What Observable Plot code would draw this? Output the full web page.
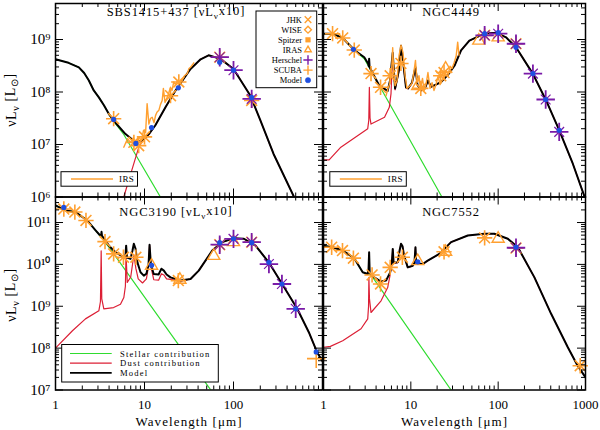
<!DOCTYPE html>
<html><head><meta charset="utf-8">
<script src="https://cdn.jsdelivr.net/npm/d3@7"></script>
<script src="https://cdn.jsdelivr.net/npm/@observablehq/plot@0.6"></script>
<style>
body{margin:0;background:#fff;}
#wrap{position:relative;width:600px;height:430px;overflow:hidden;background:#fff;}
#wrap svg{position:absolute;}
#wrap svg text{font-weight:normal;stroke:none;}
</style></head><body><div id="wrap"></div>
<script>
// ---------- tick values / labels ----------
const xMajor = [1, 10, 100, 1000];
const xMinorMult = [2, 3, 4, 5, 6, 7, 8, 9];
const xLabelsLeft = ["1", "10", "100"];
const xLabelsRight = ["1", "10", "100", "1000"];
const yTopMajor = [1e6, 1e7, 1e8, 1e9];
const yTopLabels = ["10⁶", "10⁷", "10⁸", "10⁹"];
const yBotMajor = [1e7, 1e8, 1e9, 1e10, 1e11];
const yBotLabels = ["10⁷", "10⁸", "10⁹", "10¹⁰", "10¹¹"];

// ---------- SBS1415+437 (wavelength µm, νLν) ----------
const sbsModel = [[1,4.2e8],[1.4,3.6e8],[1.83,2.95e8],[2.1,2.3e8],[2.37,1.66e8],[2.69,1.07e8],[3.07,7.9e7],[3.5,5.6e7],[3.98,3.8e7],[4.72,2.6e7],[6.12,1.58e7],[7.94,1.1e7],[9.42,1.2e7],[11.2,1.58e7],[13.2,2.3e7],[17.2,5.1e7],[22.3,1.07e8],[32.9,2.75e8],[42.7,4.2e8],[52.5,5.0e8],[71.5,4.27e8],[100,2.75e8],[155,8.5e7],[200,2.9e7],[282,6.6e6],[479,1e6],[631,3.2e5]];
const sbsStellar = [[1,4.2e8],[1.4,3.6e8],[1.83,2.95e8],[2.1,2.3e8],[2.37,1.66e8],[2.69,1.07e8],[3.07,7.9e7],[3.5,5.6e7],[3.98,3.8e7],[4.72,2.5e7],[5.85,1.55e7],[15.1,1.0e6],[20,4.5e5]];
const sbsDust = [[5.25,4e5],[5.85,1e6],[7.08,2.95e6],[8.63,8.9e6],[9.42,1.15e7],[11.2,1.55e7],[13.2,2.3e7],[17.2,5.1e7],[22.3,1.07e8],[32.9,2.75e8],[42.7,4.2e8],[52.5,5.0e8],[71.5,4.27e8],[100,2.75e8],[155,8.5e7],[200,2.9e7],[282,6.6e6],[479,1e6],[631,3.2e5]];
const sbsIRS = [[5.85,8.9e6],[6.44,1.29e7],[6.96,1.1e7],[7.52,1.35e7],[7.92,1.02e7],[8.57,1.41e7],[9.25,1.2e7],[9.75,1.86e7],[10.3,1.7e7],[10.7,6.0e7],[11.2,2.45e7],[11.7,3.16e7],[12.2,3.3e7],[12.8,2.6e7],[13.3,3.55e7],[13.8,4.1e7],[14.5,4.47e7],[15.1,5.75e7],[15.8,6.9e7],[16.3,1.17e8],[17.0,6.3e7],[18.0,7.9e7],[18.8,9.8e7],[19.6,1.23e8],[20.4,1.07e8],[21.3,1.55e8],[22.3,1.38e8],[23.5,1.66e8],[24.7,1.51e8],[26.5,1.66e8],[28.1,2.04e8],[30.2,2.24e8],[31.6,2.8e8],[32.9,2.95e8],[34.6,3.3e8],[35.8,3.6e8]];
const sbsPhot = [[4.5,3.1e7],[7.6,1.1e7],[8.6,9.5e6],[10,1.4e7],[19.6,8.5e7],[24.3,1.55e8],[70,4.6e8],[160,6.9e7]];
const sbsIras = [];
const sbsScuba = [];
const sbsHerschel = [[70,4.6e8],[100,2.6e8],[160,7.4e7]];
const sbsModelPts = [[4.5,3.0e7],[8,1.05e7],[12,2.1e7],[24,1.2e8],[70,3.7e8],[100,2.6e8],[160,7.9e7]];

// ---------- NGC4449 ----------
const n4449Model = [[1,1.29e9],[1.27,1.29e9],[1.66,1.07e9],[2.25,6.3e8],[2.93,4.6e8],[3.24,3.5e8],[3.3,3.1e8],[3.33,4.3e8],[3.37,3.0e8],[3.79,2.04e8],[4.36,1.32e8],[5.43,1.05e8],[5.78,1.66e8],[6.2,5.6e8],[6.6,1.17e8],[7.3,2.6e8],[7.72,7.6e8],[8.25,3.2e8],[8.8,1.23e8],[9.3,1.17e8],[10.3,1.5e8],[11.3,2.95e8],[11.9,1.38e8],[13.1,1.07e8],[14.5,1.17e8],[15.7,1.66e8],[17,1.26e8],[19.4,1.38e8],[22.2,1.55e8],[26.7,2.14e8],[31.6,3.16e8],[37.6,6.2e8],[46.8,9.5e8],[69.5,1.29e9],[94.6,1.35e9],[123,1.1e9],[160,7.1e8],[249,2.24e8],[354,6.9e7],[501,1.86e7],[716,4.3e6],[977,1.0e6],[1100,5e5]];
const n4449Stellar = [[1,1.29e9],[1.27,1.29e9],[1.66,1.07e9],[2.25,6.3e8],[2.93,4.3e8],[22.2,1.07e6],[40,1.8e5]];
const n4449Dust = [[1,5.1e6],[1.16,5.1e6],[1.58,8.9e6],[3.21,2.0e7],[3.3,2.9e7],[3.35,1.23e8],[3.41,3.2e7],[3.5,2.45e7],[5.0,3.3e7],[5.67,5.1e7],[5.93,9.3e7],[6.2,5.4e8],[6.6,1.1e8],[7.3,2.5e8],[7.72,7.4e8],[8.25,3.1e8],[8.8,1.2e8],[9.3,1.15e8],[10.3,1.48e8],[11.3,2.9e8],[11.9,1.36e8],[13.1,1.06e8],[14.5,1.16e8],[15.7,1.65e8],[17,1.25e8],[19.4,1.37e8],[22.2,1.55e8],[26.7,2.14e8],[31.6,3.16e8],[37.6,6.2e8],[46.8,9.5e8],[69.5,1.29e9],[94.6,1.35e9],[123,1.1e9],[160,7.1e8],[249,2.24e8],[354,6.9e7],[501,1.86e7],[716,4.3e6],[977,1.0e6],[1100,5e5]];
const n4449IRS = [[5.2,8.5e7],[5.48,1.17e8],[5.78,1.5e8],[6.05,3.0e8],[6.2,7.0e8],[6.35,2.5e8],[6.6,1.32e8],[6.95,1.66e8],[7.33,5.0e8],[7.72,7.8e8],[8.14,5.6e8],[8.59,2.04e8],[9.04,1.17e8],[9.8,1.32e8],[10.3,1.45e8],[10.9,2.57e8],[11.3,4.0e8],[11.8,1.51e8],[12.4,2.04e8],[12.9,1.17e8],[13.6,1.82e8],[14.2,1.07e8],[14.9,1.38e8],[15.7,2.35e8],[16.6,1.17e8],[17.5,1.51e8],[18.4,1.07e8],[19.4,1.38e8],[20.5,2.0e8],[21.6,1.38e8],[22.8,1.66e8],[24,2.0e8],[25.3,2.57e8],[26.7,2.14e8],[28.1,3.1e8],[29.6,2.8e8],[31.3,3.6e8],[33,4.8e8],[34.4,8.9e8],[35.6,5.0e8]];
const n4449Phot = [[1.27,1.29e9],[1.66,1.07e9],[2.25,6.3e8],[3.5,2.24e8],[4.5,1.23e8],[5.8,2.04e8],[7.7,3.5e8],[13,1.17e8],[22,2.04e8],[24,2.35e8],[70,1.2e9],[160,8.3e8]];
const n4449Iras = [[12,1.3e8],[25,2.8e8],[60,9.5e8],[100,1.1e9]];
const n4449Scuba = [];
const n4449Herschel = [[70,1.2e9],[100,1.29e9],[160,8.3e8],[250,2.24e8],[350,7.2e7],[500,1.74e7]];
const n4449ModelPts = [[2.2,6.5e8],[70,1.29e9],[100,1.35e9],[160,7.1e8],[250,2.24e8],[350,7.2e7],[500,1.86e7]];

// ---------- NGC3190 ----------
const n3190Model = [[1,2.57e11],[1.29,1.95e11],[1.68,1.78e11],[2.27,1.12e11],[2.82,6.5e10],[3.12,5.1e10],[3.26,5.0e10],[3.29,6.0e10],[3.33,4.8e10],[3.98,2.8e10],[4.72,1.95e10],[5.86,1.48e10],[6.12,1.7e10],[6.22,2.8e10],[6.36,1.45e10],[6.96,1.35e10],[7.33,2.14e10],[7.59,3.1e10],[7.92,2.4e10],[8.34,1.1e10],[9.02,6.5e9],[9.82,5.4e9],[10.5,6.0e9],[11.1,9.8e9],[11.4,2.95e10],[11.8,9.8e9],[12.7,5.9e9],[14.4,5.75e9],[15.5,7.9e9],[16.5,7.1e9],[17.7,5.75e9],[19.6,4.9e9],[25.4,4.1e9],[32.9,4.47e9],[40.7,7.1e9],[57.7,2.14e10],[74.6,3.4e10],[101,4.2e10],[131,4.1e10],[177,2.8e10],[249,1.12e10],[352,3.4e9],[520,8.7e8],[702,2.4e8],[871,7.9e7],[1018,4.6e7]];
const n3190Stellar = [[1,2.57e11],[1.29,1.95e11],[1.68,1.78e11],[2.27,1.12e11],[2.82,6.5e10],[3.12,5.0e10],[3.98,2.6e10],[60.1,7.9e6],[80,3e6]];
const n3190Dust = [[1,1.0e8],[1.55,2.6e8],[2.17,5.0e8],[3.07,7.8e8],[3.2,1.3e9],[3.26,2.1e10],[3.31,1.5e9],[3.49,8.7e8],[4.5,9.3e8],[5.37,1.12e9],[5.86,1.62e9],[6.1,3.0e9],[6.2,1.78e10],[6.4,3.7e9],[7.0,5.0e9],[7.6,1.7e10],[8.0,8e9],[8.5,4.5e9],[9.5,3.6e9],[10.5,4.5e9],[11.1,9e9],[11.4,2.9e10],[11.8,9e9],[12.7,4.3e9],[14.4,4.2e9],[15.5,6.0e9],[16.5,5.6e9],[17.7,4.5e9],[19.6,4.4e9],[25.4,4.0e9],[32.9,4.47e9],[40.7,7.1e9],[57.7,2.14e10],[74.6,3.4e10],[101,4.2e10],[131,4.1e10],[177,2.8e10],[249,1.12e10],[352,3.4e9],[520,8.7e8],[702,2.4e8],[871,7.9e7],[1018,4.6e7]];
const n3190Phot = [[1.24,2.1e11],[1.65,1.78e11],[2.2,1.12e11],[3.6,3.5e10],[4.5,1.78e10],[5.8,1.48e10],[8.0,1.48e10],[24,4.1e9],[70,2.95e10],[160,3.4e10]];
const n3190Iras = [[12,9.3e9],[25,4.3e9],[60,1.6e10],[100,3.4e10]];
const n3190Scuba = [[850,5.6e7]];
const n3190Herschel = [[70,2.95e10],[100,4.07e10],[160,3.4e10],[250,1.02e10],[350,3.4e9],[500,8.7e8]];
const n3190ModelPts = [[1.24,2.3e11],[12,9.5e9],[70,3.3e10],[100,4.1e10],[160,3.3e10],[250,1.12e10],[350,3.4e9],[500,8.7e8],[850,8.1e7]];

// ---------- NGC7552 ----------
const n7552Model = [[1,2.8e10],[1.27,2.57e10],[1.66,2.14e10],[2.25,1.41e10],[2.81,6.5e9],[3.21,5.9e9],[3.28,7.9e9],[3.33,1.95e10],[3.38,6.3e9],[3.69,5.1e9],[4.56,3.9e9],[5.2,4.1e9],[5.78,6.3e9],[6.06,1.1e10],[6.21,2.34e10],[6.35,1.1e10],[7.08,1.12e10],[7.43,2.14e10],[7.72,3.1e10],[8.04,2.7e10],[8.36,1.62e10],[9.22,8.5e9],[10.5,9.3e9],[11.0,1.1e10],[11.3,2.57e10],[11.5,1.1e10],[12.1,1.05e10],[13.7,1.02e10],[15.6,1.23e10],[21.2,1.78e10],[28.9,3.4e10],[44.9,4.9e10],[69.5,5.4e10],[90.4,5.4e10],[129,4.1e10],[168,2.57e10],[260,4.9e9],[404,6.6e8],[627,1.05e8],[813,3.8e7],[1000,2.0e7]];
const n7552Stellar = [[1,2.8e10],[1.27,2.57e10],[1.66,2.14e10],[2.25,1.41e10],[2.81,6.5e9],[3.21,5.9e9],[3.5,5.6e9],[28.9,1.0e7],[40,3.8e6]];
const n7552Dust = [[1,1.05e8],[1.2,1.1e8],[1.66,1.5e8],[2.69,2.9e8],[3.21,5.0e8],[3.28,1.0e9],[3.31,4.9e9],[3.36,1.5e9],[3.5,7.1e8],[4.56,1.35e9],[5.43,2.8e9],[5.78,5.5e9],[6.06,1.05e10],[6.21,2.3e10],[6.35,1.05e10],[7.08,1.1e10],[7.43,2.1e10],[7.72,3.05e10],[8.04,2.65e10],[8.36,1.6e10],[9.22,8.4e9],[10.5,9.2e9],[11.0,1.09e10],[11.3,2.55e10],[11.5,1.09e10],[12.1,1.04e10],[13.7,1.01e10],[15.6,1.22e10],[21.2,1.77e10],[28.9,3.4e10],[44.9,4.9e10],[69.5,5.4e10],[90.4,5.4e10],[129,4.1e10],[168,2.57e10],[260,4.9e9],[404,6.6e8],[627,1.05e8],[813,3.8e7],[1000,2.0e7]];
const n7552Phot = [[1.24,2.57e10],[1.65,2.14e10],[2.2,1.41e10],[3.6,5.6e9],[4.5,3.4e9],[5.8,8.5e9],[8.0,1.48e10],[24,2.0e10],[70,4.3e10],[160,2.45e10],[870,3.8e7]];
const n7552Iras = [[12,1.2e10],[25,2.0e10],[100,4.1e10]];
const n7552Scuba = [];
const n7552Herschel = [[160,2.5e10]];
const n7552ModelPts = [[12,1.15e10],[160,2.6e10]];

// ---------- styling ----------
const ORANGE = "#ffa030", PURPLE = "#7a1aa8", BLUE = "#1f4fe0", GREEN = "#2fdc2f", RED = "#dc1f35";
const SERIF = "Liberation Serif";
const wrap = document.getElementById("wrap");

const panels = [
  {name:"SBS1415+437", x10:true, left:0, top:0, width:325, height:200, ml:55, mr:3, mt:3, mb:3.5,
   yDomain:[1e6, 4.85e9], yMajor:yTopMajor, yLabels:yTopLabels, showY:true, showX:false,
   model:sbsModel, stellar:sbsStellar, dust:sbsDust, irs:sbsIRS, phot:sbsPhot, iras:sbsIras, scuba:sbsScuba, herschel:sbsHerschel, modelPts:sbsModelPts},
  {name:"NGC4449", x10:false, left:319.5, top:0, width:268, height:200, ml:3, mr:3, mt:3, mb:3.5,
   yDomain:[1e6, 4.85e9], yMajor:yTopMajor, yLabels:yTopLabels, showY:false, showX:false,
   model:n4449Model, stellar:n4449Stellar, dust:n4449Dust, irs:n4449IRS, phot:n4449Phot, iras:n4449Iras, scuba:n4449Scuba, herschel:n4449Herschel, modelPts:n4449ModelPts},
  {name:"NGC3190", x10:true, left:0, top:193, width:325, height:237, ml:55, mr:3, mt:3.5, mb:40.5,
   yDomain:[1e7, 4.07e11], yMajor:yBotMajor, yLabels:yBotLabels, showY:true, showX:true, xLabels:xLabelsLeft,
   model:n3190Model, stellar:n3190Stellar, dust:n3190Dust, irs:null, phot:n3190Phot, iras:n3190Iras, scuba:n3190Scuba, herschel:n3190Herschel, modelPts:n3190ModelPts},
  {name:"NGC7552", x10:false, left:319.5, top:193, width:268, height:237, ml:3, mr:3, mt:3.5, mb:40.5,
   yDomain:[1e7, 4.07e11], yMajor:yBotMajor, yLabels:yBotLabels, showY:false, showX:true, xLabels:xLabelsRight,
   model:n7552Model, stellar:n7552Stellar, dust:n7552Dust, irs:null, phot:n7552Phot, iras:n7552Iras, scuba:n7552Scuba, herschel:n7552Herschel, modelPts:n7552ModelPts}
];

const X = d => d[0], Y = d => d[1];

function subText(sel, parts) {
  let cur = false;
  parts.forEach(([t, s]) => {
    const ts = sel.append("tspan").text(t);
    if (s && !cur) ts.attr("dy", "0.3em").style("font-size", "0.72em");
    else if (!s && cur) ts.attr("dy", "-0.3em");
    else if (s) ts.style("font-size", "0.72em");
    cur = s;
  });
}

panels.forEach(p => {
  const W = p.width - p.ml - p.mr, H = p.height - p.mt - p.mb;
  const xMinor = xMajor.slice(0, 3).flatMap(m => xMinorMult.map(k => m * k));
  const yMinor = p.yMajor.flatMap(m => xMinorMult.map(k => m * k)).filter(v => v > p.yDomain[0] && v < p.yDomain[1]);
  const tickStyle = {stroke: "black", strokeWidth: 1};
  const textStyle = {fontFamily: SERIF, fontWeight: "normal", fill: "black"};
  const marks = [
    Plot.line(p.stellar, {x: X, y: Y, stroke: GREEN, strokeWidth: 1.2, clip: true}),
    Plot.line(p.dust, {x: X, y: Y, stroke: RED, strokeWidth: 1.2, clip: true}),
    Plot.line(p.model, {x: X, y: Y, stroke: "black", strokeWidth: 2, clip: true}),
    p.irs ? Plot.line(p.irs, {x: X, y: Y, stroke: ORANGE, strokeWidth: 1.4, clip: true}) : null,
    Plot.dot(p.phot, {x: X, y: Y, symbol: "plus", r: 5, stroke: ORANGE, strokeWidth: 1.6}),
    Plot.dot(p.phot, {x: X, y: Y, symbol: "times", r: 5, stroke: ORANGE, strokeWidth: 1.6}),
    Plot.dot(p.iras, {x: X, y: Y, symbol: "triangle", r: 4.5, stroke: ORANGE, fill: "none", strokeWidth: 1.4}),
    Plot.dot(p.scuba, {x: X, y: Y, symbol: "plus", r: 6, stroke: ORANGE, strokeWidth: 1.6}),
    Plot.dot(p.herschel, {x: X, y: Y, symbol: "plus", r: 6, stroke: PURPLE, strokeWidth: 1.8}),
    Plot.dot(p.herschel, {x: X, y: Y, symbol: "times", r: 4.5, stroke: PURPLE, strokeWidth: 1.2}),
    Plot.dot(p.modelPts, {x: X, y: Y, r: 2.6, fill: BLUE}),
    Plot.tickX(xMajor, {x: d => d, insetTop: H - 8, ...tickStyle}),
    Plot.tickX(xMajor, {x: d => d, insetBottom: H - 8, ...tickStyle}),
    Plot.tickX(xMinor, {x: d => d, insetTop: H - 4, ...tickStyle}),
    Plot.tickX(xMinor, {x: d => d, insetBottom: H - 4, ...tickStyle}),
    Plot.tickY(p.yMajor, {y: d => d, insetRight: W - 8, ...tickStyle}),
    Plot.tickY(p.yMajor, {y: d => d, insetLeft: W - 8, ...tickStyle}),
    Plot.tickY(yMinor, {y: d => d, insetRight: W - 4, ...tickStyle}),
    Plot.tickY(yMinor, {y: d => d, insetLeft: W - 4, ...tickStyle}),
    Plot.frame({stroke: "black", strokeWidth: 1.5})
  ];
  if (p.showY) {
    marks.push(Plot.text(p.yMajor, {y: d => d, text: (d, i) => p.yLabels[i], frameAnchor: "left", textAnchor: "end", dx: -5, fontSize: 15, ...textStyle}));
  }
  if (p.showX) {
    marks.push(Plot.text(xMajor.slice(0, p.xLabels.length), {x: d => d, text: (d, i) => p.xLabels[i], frameAnchor: "bottom", lineAnchor: "bottom", dy: 19, fontSize: 13, ...textStyle}));
    marks.push(Plot.text(["Wavelength [μm]"], {text: d => d, frameAnchor: "bottom", lineAnchor: "bottom", dy: 36, fontSize: 13, ...textStyle}));
  }
  const svg = Plot.plot({
    width: p.width, height: p.height,
    marginLeft: p.ml, marginRight: p.mr, marginTop: p.mt, marginBottom: p.mb,
    x: {type: "log", domain: [1, 1000], axis: null},
    y: {type: "log", domain: p.yDomain, axis: null},
    style: {background: "transparent", overflow: "visible", fontFamily: SERIF, color: "black"},
    marks
  });
  svg.style.left = p.left + "px";
  svg.style.top = p.top + "px";
  svg.style.maxWidth = "none";
  wrap.appendChild(svg);

  const g = d3.select(svg);
  g.selectAll("text").filter(function () { return this.textContent.startsWith("Wavelength"); })
    .style("letter-spacing", "1.1px");
  const ox = p.left, oy = p.top;
  // panel title
  const title = g.append("text")
    .attr("x", (p.showY ? 176 : 450.5) - ox).attr("y", oy === 0 ? 16 : 216 - oy)
    .attr("text-anchor", "middle").attr("fill", "black")
    .style("font-family", SERIF).style("font-size", "12.5px").style("letter-spacing", "0.9px");
  if (p.x10) subText(title, [[p.name + " [νL", false], ["ν", true], ["x10]", false]]);
  else title.text(p.name);

  // y-axis title
  if (p.showY) {
    const yt = g.append("text")
      .attr("transform", `translate(16,${(oy === 0 ? 100 : 295) - oy}) rotate(-90)`)
      .attr("text-anchor", "middle").attr("fill", "black")
      .style("font-family", SERIF).style("font-size", "14px").style("letter-spacing", "0.6px");
    subText(yt, [["νL", false], ["ν", true], [" [L", false], ["⊙", true], ["]", false]]);
  }

  // IRS legend box (top panels)
  if (p.irs) {
    const bx = (p.showY ? 61 : 329.3) - ox, by = 171.7 - oy;
    g.append("rect").attr("x", bx).attr("y", by).attr("width", 76.5).attr("height", 14.5)
      .attr("fill", "white").attr("stroke", "black").attr("stroke-width", 1);
    g.append("line").attr("x1", bx + 10).attr("x2", bx + 52).attr("y1", by + 7.3).attr("y2", by + 7.3)
      .attr("stroke", ORANGE).attr("stroke-width", 1.6);
    g.append("text").attr("x", bx + 58).attr("y", by + 10.3).attr("text-anchor", "start").attr("fill", "black")
      .style("font-family", SERIF).style("font-size", "9px").style("letter-spacing", "0.4px").text("IRS");
  }

  // instrument legend (top-left panel)
  if (p.name === "SBS1415+437") {
    g.append("rect").attr("x", 256).attr("y", 11).attr("width", 60.7).attr("height", 76.7)
      .attr("fill", "white").attr("stroke", "black").attr("stroke-width", 1);
    const items = [
      ["JHK", d3.symbolTimes, ORANGE, false],
      ["WISE", d3.symbolDiamond2, ORANGE, false],
      ["Spitzer", d3.symbolSquare, ORANGE, true],
      ["IRAS", d3.symbolTriangle2, ORANGE, false],
      ["Herschel", d3.symbolPlus, PURPLE, false],
      ["SCUBA", d3.symbolPlus, ORANGE, false],
      ["Model", d3.symbolCircle, BLUE, true]
    ];
    items.forEach(([lab, sym, col, filled], i) => {
      const yy = 19.6 + i * 10.1;
      g.append("text").attr("x", 302).attr("y", yy + 3).attr("text-anchor", "end").attr("fill", "black")
        .style("font-family", SERIF).style("font-size", "8.5px").text(lab);
      g.append("path").attr("transform", `translate(308,${yy})`)
        .attr("d", d3.symbol(sym, filled ? 22 : 30)())
        .attr("fill", filled ? col : "none").attr("stroke", col).attr("stroke-width", filled ? 0.5 : 1.4);
    });
  }

  // component legend (bottom-left panel)
  if (p.name === "NGC3190") {
    const bx = 61.7, by = 344.5 - oy;
    g.append("rect").attr("x", bx).attr("y", by).attr("width", 156.6).attr("height", 37.5)
      .attr("fill", "white").attr("stroke", "black").attr("stroke-width", 1);
    [["Stellar contribution", GREEN, 1.2], ["Dust contribution", RED, 1.2], ["Model", "black", 1.8]].forEach(([lab, col, sw], i) => {
      const yy = by + 9 + i * 9.7;
      g.append("line").attr("x1", 70).attr("x2", 111.7).attr("y1", yy).attr("y2", yy)
        .attr("stroke", col).attr("stroke-width", sw);
      g.append("text").attr("x", 120).attr("y", yy + 3).attr("text-anchor", "start").attr("fill", "black")
        .style("font-family", SERIF).style("font-size", "8.6px").style("letter-spacing", "1.2px").text(lab);
    });
  }
});
</script>
</body></html>
